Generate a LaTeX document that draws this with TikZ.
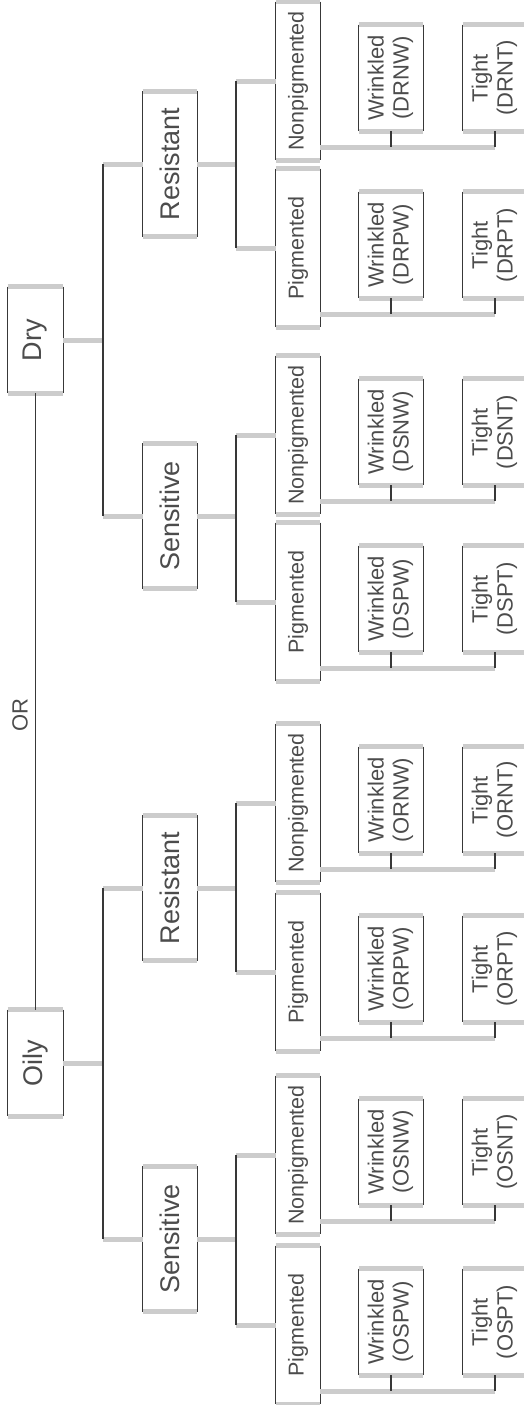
\documentclass[tikz,border=0pt]{standalone}
\usepackage{fontspec}
\setmainfont{Liberation Sans}
\usepackage{graphicx}
\begin{document}
\begin{tikzpicture}[x=0.5pt,y=-0.5pt,
  hl/.style={draw=black!20, line width=2.5pt},
  vl/.style={draw=black!78, line width=0.8pt},
  bx/.style={inner sep=0pt, text=black!70, append after command={
     (\tikzlastnode.north west) edge[hl] (\tikzlastnode.north east)
     (\tikzlastnode.south west) edge[hl] (\tikzlastnode.south east)
     (\tikzlastnode.north west) edge[vl] (\tikzlastnode.south west)
     (\tikzlastnode.north east) edge[vl] (\tikzlastnode.south east)}},
  lvone/.style={bx, minimum width=27.5pt, minimum height=53pt, font=\fontsize{13.5}{15}\selectfont},
  lvtwo/.style={bx, minimum width=27pt, minimum height=72.5pt, font=\fontsize{13.5}{15}\selectfont},
  leafbox/.style={bx, minimum width=22pt, minimum height=79pt, font=\fontsize{10.75}{12}\selectfont},
  subbox/.style={bx, minimum width=32pt, minimum height=53pt, font=\fontsize{11}{12.5}\selectfont},
  ortxt/.style={inner sep=0pt, text=black!70, font=\fontsize{11}{12}\selectfont}
]
\useasboundingbox (0,0) rectangle (524,1405);
\clip (0,0) rectangle (524,1405);

% level 1
\node[lvone] (Dry) at (35.5,340) {\rotatebox{90}{Dry}};
\node[lvone] (Oily) at (35.5,1063) {\rotatebox{90}{Oily}};
\node[ortxt] (ortext) at (20,715) {\rotatebox{90}{OR}};
\draw[vl] (Dry) -- (Oily);

% level 2
\node[lvtwo] (DR) at (170,164) {\rotatebox{90}{Resistant}};
\node[lvtwo] (DS) at (170,516) {\rotatebox{90}{Sensitive}};
\node[lvtwo] (OR) at (170,888) {\rotatebox{90}{Resistant}};
\node[lvtwo] (OS) at (170,1239) {\rotatebox{90}{Sensitive}};

\coordinate (jD) at (103,340);
\coordinate (jO) at (103,1063);
\draw[hl] (Dry) -- (jD);
\draw[hl] (jD |- DR) -- (DR);
\draw[hl] (jD |- DS) -- (DS);
\draw[vl] (jD |- DR) -- (jD |- DS);
\draw[hl] (Oily) -- (jO);
\draw[hl] (jO |- OR) -- (OR);
\draw[hl] (jO |- OS) -- (OS);
\draw[vl] (jO |- OR) -- (jO |- OS);

% leaves
\foreach \nm/\cy/\lab in {DRN/81/Nonpigmented, DRP/248/Pigmented, DSN/435/Nonpigmented, DSP/602/Pigmented, ORN/803/Nonpigmented, ORP/972/Pigmented, OSN/1155/Nonpigmented, OSP/1325/Pigmented}{
  \node[leafbox] (L\nm) at (298,\cy) {\rotatebox{90}{\lab}};
  \node[subbox] (W\nm) at (391,\cy-3) {\rotatebox{90}{\begin{tabular}{@{}c@{}}Wrinkled\\(\nm W)\end{tabular}}};
  \node[subbox] (T\nm) at (495,\cy-3) {\rotatebox{90}{\begin{tabular}{@{}c@{}}Tight\\(\nm T)\end{tabular}}};
  \coordinate (J\nm) at (495,\cy+66);
  \draw[hl] (L\nm.east |- J\nm) -- (J\nm);
  \draw[vl] (W\nm.south) -- (W\nm.south |- J\nm);
  \draw[vl] (T\nm.south) -- (J\nm);
}

% level 2 to leaves
\foreach \p/\a/\b/\cy in {DR/DRN/DRP/164, DS/DSN/DSP/516, OR/ORN/ORP/888, OS/OSN/OSP/1239}{
  \coordinate (k\p) at (236,\cy);
  \draw[hl] (\p) -- (k\p);
  \draw[hl] (k\p |- L\a) -- (L\a);
  \draw[hl] (k\p |- L\b) -- (L\b);
  \draw[vl] (k\p |- L\a) -- (k\p |- L\b);
}
\end{tikzpicture}
\end{document}
